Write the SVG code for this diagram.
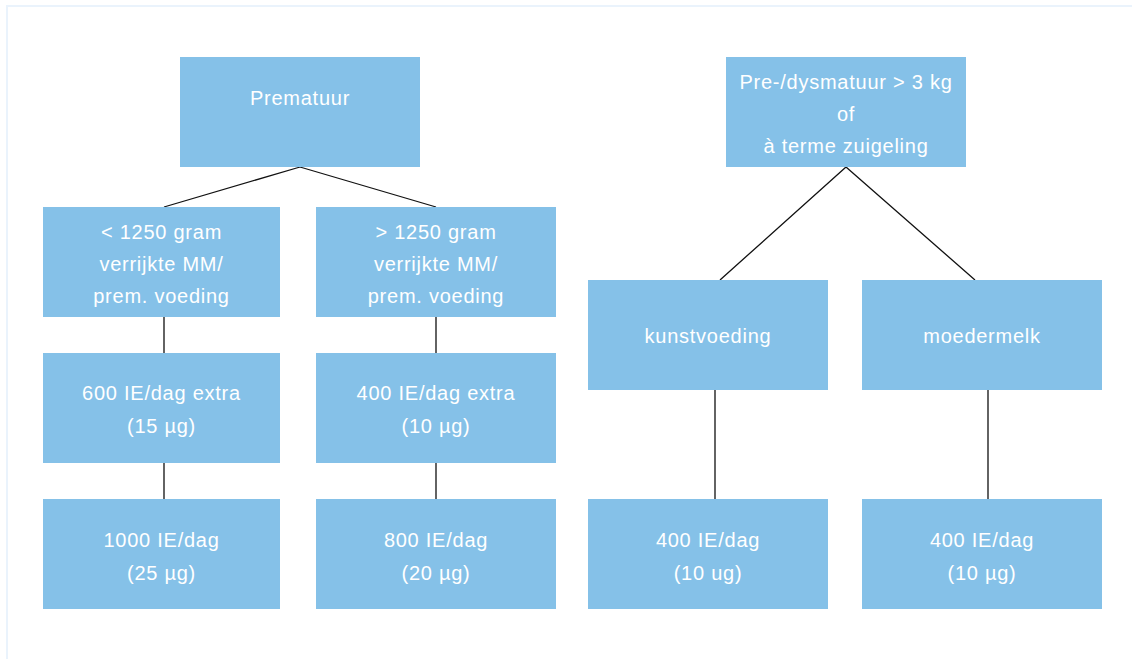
<svg xmlns="http://www.w3.org/2000/svg" width="1132" height="659" viewBox="0 0 1132 659">
<style>
.box{fill:#85c1e8}
.t{font-family:"Liberation Sans",Arial,sans-serif;font-size:20px;fill:#fff;text-anchor:middle;letter-spacing:0.75px}
.c{stroke:#111;stroke-width:1.3;fill:none}
</style>
<rect x="0" y="0" width="1132" height="659" fill="#fff"/>
<rect x="7" y="6" width="1200" height="700" fill="none" stroke="#eaf3fc" stroke-width="2"/>
<g id="connectors">
<path class="c" d="M300 167 L164 207 M300 167 L436 207"/>
<path class="c" d="M164 317 V353 M164 463 V499 M436 317 V353 M436 463 V499"/>
<path class="c" d="M846 167 L720 280 M846 167 L975 280"/>
<path class="c" d="M715 390 V499 M988 390 V499"/>
</g>
<g id="prematuur"><rect class="box" x="180" y="57" width="240" height="110"/><text class="t" x="300" y="105">Prematuur</text></g>
<g id="lt1250"><rect class="box" x="43" y="207" width="237" height="110"/><text class="t" x="161.5" y="239">&lt; 1250 gram</text><text class="t" x="161.5" y="271">verrijkte MM/</text><text class="t" x="161.5" y="303">prem. voeding</text></g>
<g id="gt1250"><rect class="box" x="316" y="207" width="240" height="110"/><text class="t" x="436" y="239">&gt; 1250 gram</text><text class="t" x="436" y="271">verrijkte MM/</text><text class="t" x="436" y="303">prem. voeding</text></g>
<g id="extra600"><rect class="box" x="43" y="353" width="237" height="110"/><text class="t" x="161.5" y="400">600 IE/dag extra</text><text class="t" x="161.5" y="433">(15 µg)</text></g>
<g id="extra400"><rect class="box" x="316" y="353" width="240" height="110"/><text class="t" x="436" y="400">400 IE/dag extra</text><text class="t" x="436" y="433">(10 µg)</text></g>
<g id="d1000"><rect class="box" x="43" y="499" width="237" height="110"/><text class="t" x="161.5" y="547">1000 IE/dag</text><text class="t" x="161.5" y="580">(25 µg)</text></g>
<g id="d800"><rect class="box" x="316" y="499" width="240" height="110"/><text class="t" x="436" y="547">800 IE/dag</text><text class="t" x="436" y="580">(20 µg)</text></g>
<g id="dysmatuur"><rect class="box" x="726" y="57" width="240" height="110"/><text class="t" x="846" y="89">Pre-/dysmatuur &gt; 3 kg</text><text class="t" x="846" y="121">of</text><text class="t" x="846" y="153">à terme zuigeling</text></g>
<g id="kunstvoeding"><rect class="box" x="588" y="280" width="240" height="110"/><text class="t" x="708" y="343">kunstvoeding</text></g>
<g id="moedermelk"><rect class="box" x="862" y="280" width="240" height="110"/><text class="t" x="982" y="343">moedermelk</text></g>
<g id="kv400"><rect class="box" x="588" y="499" width="240" height="110"/><text class="t" x="708" y="547">400 IE/dag</text><text class="t" x="708" y="580">(10 ug)</text></g>
<g id="mm400"><rect class="box" x="862" y="499" width="240" height="110"/><text class="t" x="982" y="547">400 IE/dag</text><text class="t" x="982" y="580">(10 µg)</text></g>
</svg>
